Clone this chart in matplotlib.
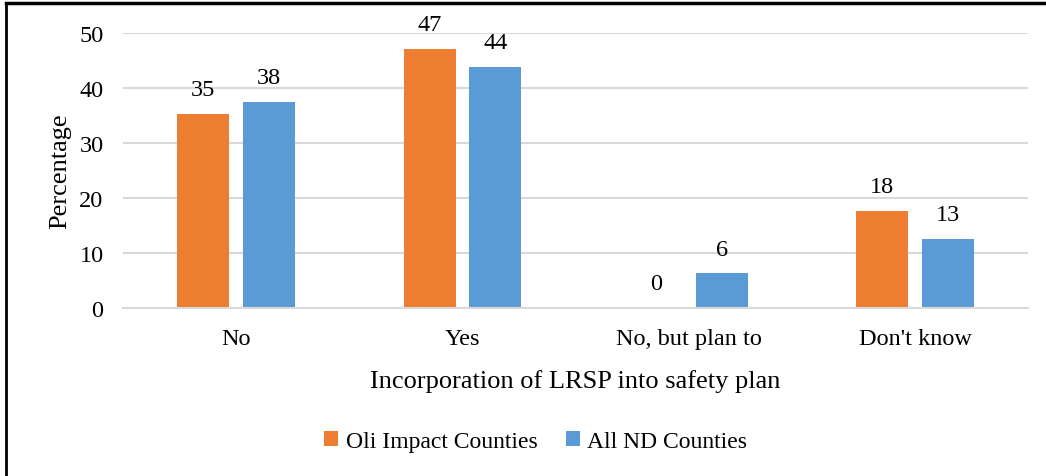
import matplotlib
matplotlib.use("Agg")
import matplotlib.pyplot as plt
from matplotlib.lines import Line2D
import numpy as np

plt.rcParams['font.family'] = ['Liberation Serif', 'DejaVu Serif']

categories = ["No", "Yes", "No, but plan to", "Don't know"]
oil_impact = [35.3, 47.1, 0.0, 17.6]
all_nd = [37.5, 43.8, 6.3, 12.6]
series_names = ["Oli Impact Counties", "All ND Counties"]
colors = ["#ED7D31", "#5B9BD5"]

fig = plt.figure(figsize=(10.46, 4.77), dpi=100)
ax = fig.add_axes([0.1176, 0.352, 0.8654, 0.5767])

x = np.arange(len(categories))
w = 0.23
off = 0.145
b1 = ax.bar(x - off, oil_impact, w, color=colors[0], label=series_names[0])
b2 = ax.bar(x + off, all_nd, w, color=colors[1], label=series_names[1])

for bars in (b1, b2):
    ax.bar_label(bars, fmt="%.0f", padding=10, fontsize=17.5)

ax.set_xlim(-0.5, len(categories) - 0.5)
ax.set_ylim(0, 50)
ax.set_yticks(range(0, 51, 10))
ax.set_xticks(x)
ax.set_xticklabels(categories)
ax.tick_params(axis="both", length=0, labelsize=17.5)
ax.tick_params(axis="y", pad=14)
ax.tick_params(axis="x", pad=14)

ax.grid(axis="y", color="#D9D9D9", linewidth=1.5)
ax.set_axisbelow(True)
for side in ("top", "right", "left"):
    ax.spines[side].set_visible(False)
ax.spines["bottom"].set_color("#D9D9D9")
ax.spines["bottom"].set_linewidth(1.5)

ax.set_xlabel("Incorporation of LRSP into safety plan", fontsize=19, labelpad=15)
ax.set_ylabel("Percentage", fontsize=19, labelpad=6)

fig.legend(handles=[b1, b2], loc="center", bbox_to_anchor=(0.512, 0.073), ncol=2,
           frameon=False, fontsize=17, handlelength=0.6, handleheight=0.6,
           handletextpad=0.3, columnspacing=1.2)

# outer frame (top and left edges)
fig.add_artist(Line2D([0.0062, 1.0], [0.9925, 0.9925], color="black", linewidth=2.5,
                      transform=fig.transFigure))
fig.add_artist(Line2D([0.0062, 0.0062], [0.0, 0.9925], color="black", linewidth=2.0,
                      transform=fig.transFigure))

fig.savefig("out.png", dpi=100)
